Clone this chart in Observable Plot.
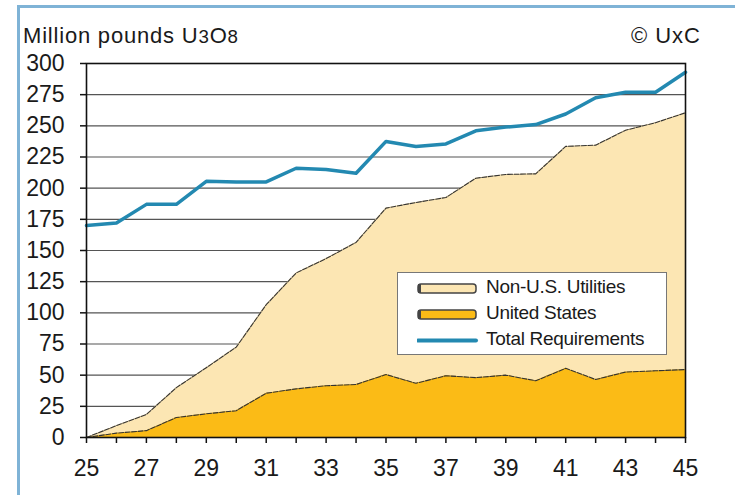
<!DOCTYPE html>
<html>
<head>
<meta charset="utf-8">
<script src="https://cdn.jsdelivr.net/npm/d3@7"></script>
<script src="https://cdn.jsdelivr.net/npm/@observablehq/plot@0.6"></script>
<style>
  html, body { margin: 0; padding: 0; background: #fff; }
  #wrap { position: relative; width: 735px; height: 495px; overflow: hidden; font-family: "Liberation Sans", Arial, sans-serif; color: #1a1a1a; background: #fff; }
  #frameblue { position: absolute; left: 17px; top: 5px; width: 720px; height: 500px; border-left: 3px solid #7fb3d6; border-top: 3px solid #7fb3d6; box-sizing: border-box; pointer-events: none; }
  #title { position: absolute; left: 23px; top: 23px; font-size: 22px; letter-spacing: 0.8px; }
  #title .sm { font-size: 0.85em; }
  #credit { position: absolute; right: 34px; top: 23px; font-size: 22px; letter-spacing: 1px; }
  #chart { position: absolute; left: 0; top: 36px; }
  #legend { position: absolute; left: 397px; top: 272px; width: 270px; height: 83px; border: 1.5px solid #777; background: #fff; box-sizing: border-box; font-size: 19px; letter-spacing: -0.3px; }
  .row { position: absolute; left: 19px; width: 240px; height: 22px; }
  .sw { position: absolute; left: 0; top: 0; }
  .lab { position: absolute; left: 69px; top: -2px; white-space: nowrap; }
</style>
</head>
<body>
<div id="wrap">
  <div id="title">Million pounds U<span class="sm">3</span>O<span class="sm">8</span></div>
  <div id="credit">© UxC</div>
  <div id="chart"></div>
  <div id="legend"></div>
  <div id="frameblue"></div>
</div>
<script>
const years = [25,26,27,28,29,30,31,32,33,34,35,36,37,38,39,40,41,42,43,44,45];
const unitedStates = [0,3.5,5.5,16,19,21.5,35.5,39,41.5,42.5,50.5,43.5,49.5,48,50,45.5,55.5,46.5,52.5,53.5,54.5];
const nonUS = [0,6,13,24,37,51,71,93,102,114,133.5,145,143,160,161,166,178,188,194,199,206];
const totalRequirements = [170,172,187,187,205.5,205,205,216,215,212,237.5,233.5,235.5,246,249,251,259.5,272.5,277,277,293];
const yTicks = [0,25,50,75,100,125,150,175,200,225,250,275,300];
const seriesNames = ["Non-U.S. Utilities", "United States", "Total Requirements"];
const colors = { nonUS: "#fce6b3", us: "#fbbb16", total: "#2389b1" };

const rows = years.map((yr, i) => ({
  year: yr,
  us: unitedStates[i],
  top: unitedStates[i] + nonUS[i],
  total: totalRequirements[i]
}));

const plot = Plot.plot({
  width: 735,
  height: 459,
  marginTop: 27,
  marginBottom: 58,
  marginLeft: 86,
  marginRight: 50,
  style: { fontFamily: "Liberation Sans, Arial, sans-serif", fontSize: "23px", color: "#1a1a1a", background: "transparent" },
  x: { domain: [25, 45] },
  y: { domain: [0, 300] },
  marks: [
    Plot.ruleY(yTicks.slice(1, -1), { stroke: "#555", strokeWidth: 1.2 }),
    Plot.areaY(rows, { x: "year", y1: "us", y2: "top", fill: colors.nonUS }),
    Plot.areaY(rows, { x: "year", y1: 0, y2: "us", fill: colors.us }),
    Plot.lineY(rows, { x: "year", y: "top", stroke: "#333", strokeWidth: 1.1, strokeDasharray: "5 1.5" }),
    Plot.lineY(rows, { x: "year", y: "us", stroke: "#333", strokeWidth: 1.1, strokeDasharray: "5 1.5" }),
    Plot.lineY(rows, { x: "year", y: "total", stroke: colors.total, strokeWidth: 3.5, strokeLinejoin: "round" }),
    Plot.frame({ stroke: "#111", strokeWidth: 1.6 }),
    Plot.axisY({ ticks: yTicks, tickSize: 6, tickPadding: 16, tickFormat: d => d, stroke: "#111", label: null, strokeWidth: 1.5 }),
    Plot.axisX({ ticks: years, tickSize: 6, tickPadding: 16, tickFormat: d => (d % 2 ? d : ""), stroke: "#111", label: null, strokeWidth: 1.5 })
  ]
});
document.getElementById("chart").appendChild(plot);

const legend = document.getElementById("legend");
const swatch = [
  `<rect x="1" y="6" width="58" height="9" rx="3" fill="${colors.nonUS}" stroke="#444" stroke-width="1.5"/><rect x="1" y="6" width="3" height="9" fill="#444"/>`,
  `<rect x="1" y="6" width="58" height="9" rx="3" fill="${colors.us}" stroke="#444" stroke-width="1.5"/><rect x="1" y="6" width="3" height="9" fill="#444"/>`,
  `<line x1="1" y1="10.5" x2="59" y2="10.5" stroke="${colors.total}" stroke-width="4" stroke-linecap="round"/>`
];
seriesNames.forEach((name, i) => {
  const row = document.createElement("div");
  row.className = "row";
  row.style.top = (5 + i * 26) + "px";
  row.innerHTML = `<svg class="sw" width="62" height="22">${swatch[i]}</svg><div class="lab">${name}</div>`;
  legend.appendChild(row);
});
</script>
</body>
</html>
